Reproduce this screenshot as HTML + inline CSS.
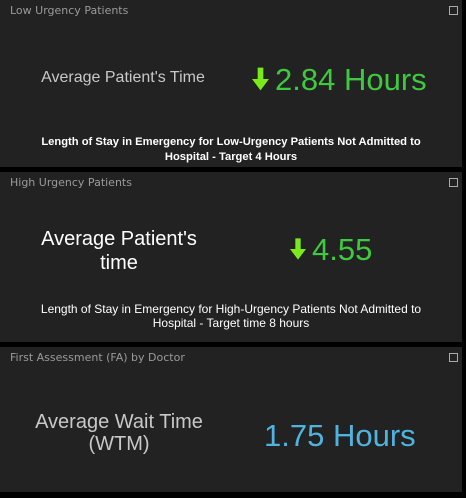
<!DOCTYPE html>
<html><head><meta charset="utf-8"><style>
body{margin:0;width:466px;height:498px;background:#000;position:relative;overflow:hidden;font-family:"Liberation Sans",sans-serif}
.p{position:absolute;left:0;width:462px;background:#222}
.t{position:absolute;left:10px;top:4px;color:#9a9a9a;font-family:"DejaVu Sans","Liberation Sans",sans-serif;font-size:11px}
.ic{position:absolute;left:449px;top:6px;width:7px;height:7px;border:1px solid #aaa}
.a{position:absolute;text-align:center}
.arr{display:inline-block;vertical-align:middle;margin-right:6px}
</style></head><body>
<div class="p" style="top:0;height:167px">
 <div class="t">Low Urgency Patients</div>
 <div class="ic"></div>
 <div class="a" style="left:0;width:246px;top:69px;font-size:16px;color:#c8c8c8">Average Patient's Time</div>
 <div class="a" style="left:252px;top:62px;font-size:31px;color:#3ec93e;white-space:nowrap">
  <svg class="arr" width="17" height="24" viewBox="0 0 18 24" style="margin-top:-6px"><path d="M6 0h6v12h6l-9 12-9-12h6z" fill="#7bea1b"/></svg>2.84 Hours</div>
 <div class="a" style="left:0;width:462px;top:135px;font-size:11.2px;font-weight:bold;color:#fff;line-height:15px">Length of Stay in Emergency for Low-Urgency Patients Not Admitted to<br>Hospital - Target 4 Hours</div>
</div>
<div class="p" style="top:172px;height:170px">
 <div class="t">High Urgency Patients</div>
 <div class="ic"></div>
 <div class="a" style="left:0;width:238px;top:55px;font-size:20px;color:#fff;line-height:24px">Average Patient's<br>time</div>
 <div class="a" style="left:290px;top:60px;font-size:31px;color:#3ec93e;white-space:nowrap">
  <svg class="arr" width="16" height="24" viewBox="0 0 18 24" style="margin-top:-6px"><path d="M6 0h6v12h6l-9 12-9-12h6z" fill="#7bea1b"/></svg>4.55</div>
 <div class="a" style="left:0;width:462px;top:130px;font-size:12px;color:#fff;line-height:14px">Length of Stay in Emergency for High-Urgency Patients Not Admitted to<br>Hospital - Target time 8 hours</div>
</div>
<div class="p" style="top:347px;height:145px">
 <div class="t">First Assessment (FA) by Doctor</div>
 <div class="ic"></div>
 <div class="a" style="left:0;width:238px;top:64px;font-size:20px;color:#c8c8c8;line-height:22px">Average Wait Time<br>(WTM)</div>
 <div class="a" style="left:264px;top:71px;font-size:31px;color:#4fb3de;white-space:nowrap">1.75 Hours</div>
</div>
</body></html>
